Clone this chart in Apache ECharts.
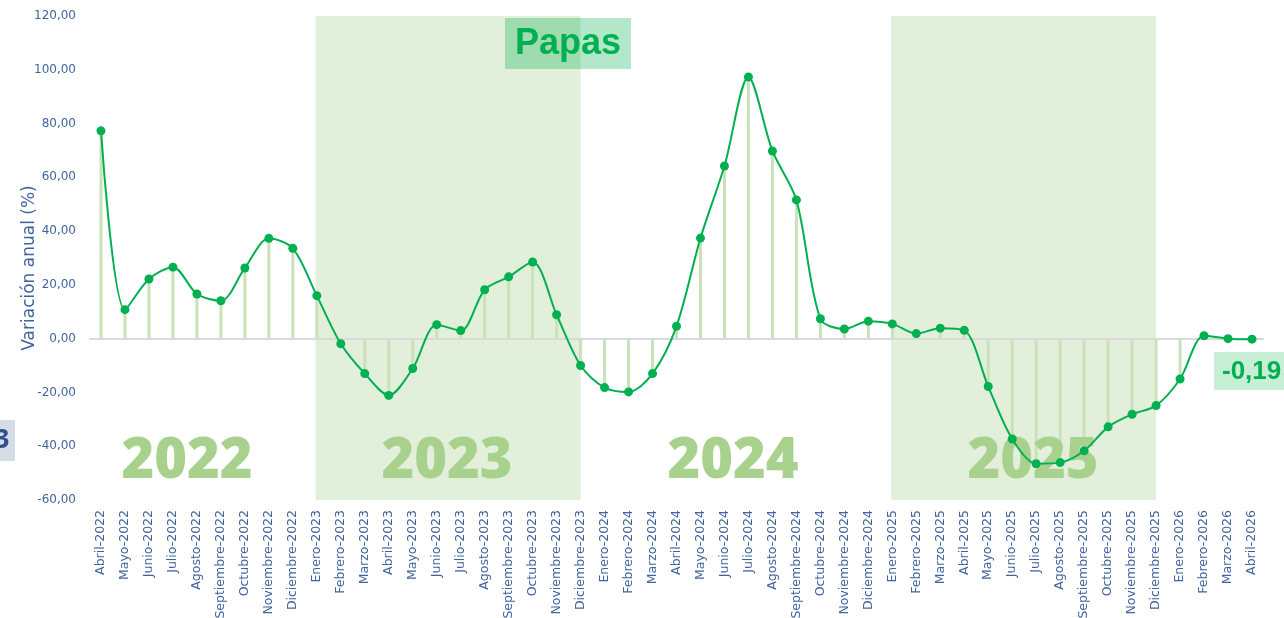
<!DOCTYPE html>
<html>
<head>
<meta charset="utf-8">
<script src="https://cdn.jsdelivr.net/npm/echarts@6/dist/echarts.min.js"></script>
<style>
  html, body { margin: 0; padding: 0; background: #fff; }
  #chart { width: 1284px; height: 618px; }
</style>
</head>
<body>
<div id="chart"></div>
<script>
const months = ['Abril-2022', 'Mayo-2022', 'Junio-2022', 'Julio-2022', 'Agosto-2022', 'Septiembre-2022', 'Octubre-2022', 'Noviembre-2022', 'Diciembre-2022',
  'Enero-2023', 'Febrero-2023', 'Marzo-2023', 'Abril-2023', 'Mayo-2023', 'Junio-2023', 'Julio-2023', 'Agosto-2023', 'Septiembre-2023', 'Octubre-2023', 'Noviembre-2023', 'Diciembre-2023',
  'Enero-2024', 'Febrero-2024', 'Marzo-2024', 'Abril-2024', 'Mayo-2024', 'Junio-2024', 'Julio-2024', 'Agosto-2024', 'Septiembre-2024', 'Octubre-2024', 'Noviembre-2024', 'Diciembre-2024',
  'Enero-2025', 'Febrero-2025', 'Marzo-2025', 'Abril-2025', 'Mayo-2025', 'Junio-2025', 'Julio-2025', 'Agosto-2025', 'Septiembre-2025', 'Octubre-2025', 'Noviembre-2025', 'Diciembre-2025',
  'Enero-2026', 'Febrero-2026', 'Marzo-2026', 'Abril-2026']

const variacion = [77.3, 10.8, 22.2, 26.6, 16.6, 14.1, 26.3, 37.3, 33.6,
  16.0, -1.9, -13.0, -21.1, -11.1, 5.2, 3.0, 18.2, 23.0, 28.5, 8.9, -10.0,
  -18.2, -19.8, -13.0, 4.6, 37.4, 64.2, 97.3, 69.8, 51.6, 7.4, 3.6, 6.5,
  5.5, 1.9, 3.9, 3.1, -17.8, -37.3, -46.5, -46.1, -41.7, -32.8, -28.1, -24.9,
  -15.0, 1.1, 0.0, -0.19]

const shadedYears = [['Enero-2023', 'Diciembre-2023'], ['Enero-2025', 'Diciembre-2025']]
const yearLabels = ['2022', '2023', '2024', '2025']
const lastLabel = '-0,19'

const blue = '#41649e'
const green = '#00b050'

const chart = echarts.init(document.getElementById('chart'))

const yearPos = [187, 447, 733, 1033]

const option = {
  animation: false,
  grid: { left: 89, right: 20, top: 16, bottom: 118, outerBoundsMode: 'none' },
  xAxis: [
    {
      type: 'category',
      data: months,
      boundaryGap: true,
      axisLine: { show: false },
      axisTick: { show: false },
      axisLabel: {
        rotate: 90,
        interval: 0,
        color: blue,
        fontSize: 12.5,
        fontFamily: 'DejaVu Sans',
        margin: 10,
      },
    },
    // eje auxiliar para sombrear de centro a centro de categoría
    { type: 'value', min: -0.5, max: months.length - 0.5, show: false },
  ],
  yAxis: {
    type: 'value',
    min: -60,
    max: 120,
    interval: 20,
    name: 'Variación anual (%)',
    nameLocation: 'middle',
    nameGap: 51,
    nameMoveOverlap: false,
    nameTextStyle: { color: blue, fontSize: 17, fontFamily: 'DejaVu Sans', padding: [0, 20, 0, 0] },
    axisLine: { show: false },
    axisTick: { show: false },
    splitLine: { show: false },
    axisLabel: {
      color: blue,
      fontSize: 12,
      fontFamily: 'DejaVu Sans',
      margin: 13,
      formatter: (v) => v.toFixed(2).replace('.', ','),
    },
  },
  graphic: [
    ...yearLabels.map((t, i) => ({
      type: 'text',
      x: yearPos[i],
      y: 462,
      z: 3,
      style: {
        text: t,
        fill: '#a9d18e',
        font: '800 56px "Open Sans"',
        align: 'center',
        verticalAlign: 'middle',
      },
    })),
    { type: 'rect', z: 10, shape: { x: 505, y: 18, width: 126, height: 51 }, style: { fill: 'rgba(0,176,80,0.3)' } },
    { type: 'text', z: 11, x: 568, y: 44, style: { text: 'Papas', fill: green, font: 'bold 36px "Liberation Sans"', align: 'center', verticalAlign: 'middle' } },
    { type: 'rect', z: 10, shape: { x: 1214, y: 352, width: 80, height: 38 }, style: { fill: '#c6efd6' } },
    { type: 'text', z: 11, x: 1222, y: 372, style: { text: lastLabel, fill: green, font: 'bold 26px "Liberation Sans"', align: 'left', verticalAlign: 'middle' } },
    { type: 'rect', z: 10, shape: { x: -30, y: 420, width: 45, height: 41 }, style: { fill: '#d6dce5' } },
    { type: 'text', z: 11, x: 2, y: 441, style: { text: '3', fill: '#2f4f8f', font: 'bold 26px "Open Sans"', align: 'center', verticalAlign: 'middle' } },
  ],
  series: [
    {
      name: 'años',
      type: 'line',
      xAxisIndex: 1,
      data: [],
      z: 0,
      markArea: {
        silent: true,
        itemStyle: { color: '#e2efda' },
        data: shadedYears.map(([a, b]) => [
          { xAxis: months.indexOf(a) - 0.05, yAxis: -60 },
          { xAxis: months.indexOf(b), yAxis: 120 },
        ]),
      },
    },
    {
      name: 'guias',
      type: 'bar',
      data: variacion,
      barWidth: 3,
      z: 1,
      itemStyle: { color: '#c9e2b8' },
      markLine: {
        silent: true,
        symbol: 'none',
        label: { show: false },
        lineStyle: { color: '#d9d9d9', width: 2, type: 'solid' },
        data: [{ yAxis: 0 }],
      },
    },
    {
      name: 'Papas',
      type: 'line',
      data: variacion,
      smooth: 0.3,
      z: 5,
      symbol: 'circle',
      symbolSize: 9,
      lineStyle: { color: green, width: 2 },
      itemStyle: { color: green },
    },
  ],
}

chart.setOption(option)
</script>
</body>
</html>
